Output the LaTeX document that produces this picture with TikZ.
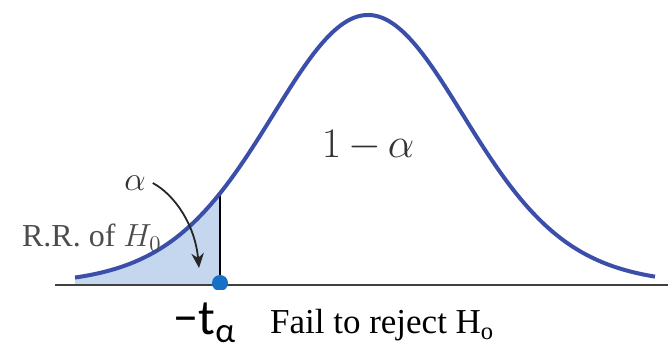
\RequirePackage{fix-cm}
\documentclass[tikz,border=0pt]{standalone}
\usepackage{fontspec}
\setmainfont{Liberation Serif}
\newfontfamily\labelsans{Carlito}
\usetikzlibrary{arrows.meta}
\definecolor{curveblue}{RGB}{58,78,170}
\definecolor{rrfill}{RGB}{197,215,238}
\definecolor{dotblue}{RGB}{22,112,200}
\newcommand{\tdens}[1]{285-270/(1+((#1-368)/100.5)^2/15)^8}
\tikzset{
  curve/.style = {line width=2pt, curveblue},
  axis/.style  = {line width=1pt, black!75},
  crit/.style  = {line width=0.7pt, black},
  vec/.style   = {-{Stealth[length=2.6mm,width=2.2mm]}, line width=0.9pt, black!85},
}

\begin{document}
\begin{tikzpicture}[x=0.5pt,y=-0.5pt]
  \useasboundingbox (0,0) rectangle (668,351);
  % shaded rejection region
  \fill[rrfill] (75,285) -- plot[domain=75:220,samples=60,smooth] (\x,{\tdens{\x}}) -- (220,285) -- cycle;
  \draw[axis] (55,285) -- (668,285);
  \coordinate (cbase) at (220,285);
  \coordinate (ctop) at (220,{\tdens{220}});
  \draw[crit] (cbase) -- (ctop);
  \draw[curve] plot[domain=75:655,samples=200,smooth] (\x,{\tdens{\x}});
  \begin{scope}
    \clip (200,260) rectangle (240,290);
    \fill[dotblue] (220,283) circle (8);
  \end{scope}
  % labels
  \node[font=\fontsize{16}{18}\selectfont, text=black!70, anchor=base west] (rr) at (15,247) {R.R. of $H_0$};
  \node[font=\fontsize{17}{19}\selectfont, text=black!80] (alpha) at (135,183) {$\alpha$};
  \node[font=\fontsize{21}{24}\selectfont, text=black!80] (conf) at (368,146) {$1\,{-}\,\alpha$};
  \node[font=\labelsans\fontsize{25}{28}\selectfont, anchor=base] (tcrit) at (205,335) {−t\textsubscript{α}};
  \node[font=\fontsize{17.5}{20}\selectfont, anchor=base west] (fail) at (263,334) {Fail to reject H\textsubscript{o}};
  \coordinate (tip) at (199,268);
  \draw[vec] (alpha.east) .. controls (175,195) and (195,225) .. (tip);
\end{tikzpicture}
\end{document}
